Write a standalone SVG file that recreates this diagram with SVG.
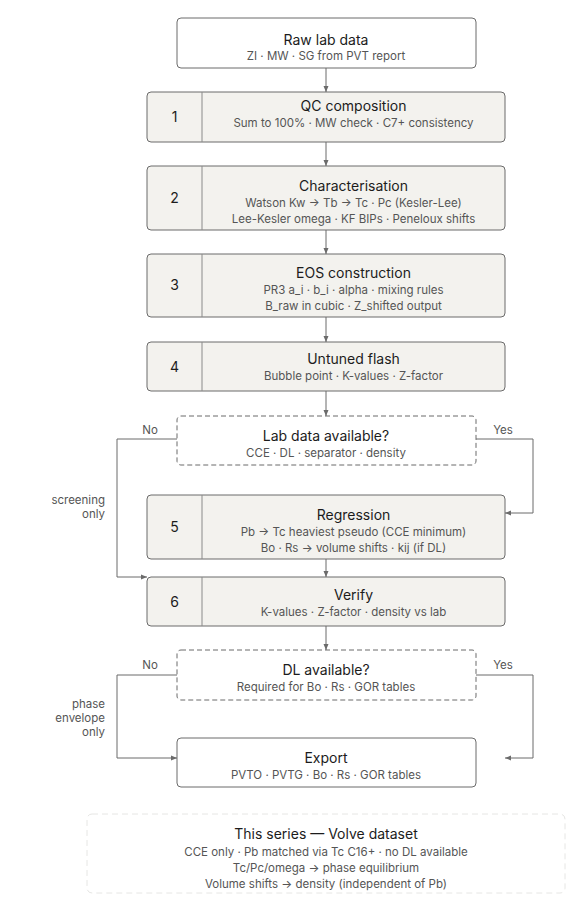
<svg xmlns="http://www.w3.org/2000/svg" width="575" height="912" viewBox="0 0 575 912">
<style>
.box{fill:#ffffff;stroke:#6b6b6b;stroke-width:1}
.step{fill:#f3f2ee;stroke:#6b6b6b;stroke-width:1}
.dec{fill:#ffffff;stroke:#6b6b6b;stroke-width:1;stroke-dasharray:5 3}
.note{fill:#ffffff;stroke:#e6e6e4;stroke-width:1;stroke-dasharray:6 4}
.div{stroke:#8a8a8a;stroke-width:1}
.t{font-family:Inter,"Liberation Sans",sans-serif;font-size:14px;fill:#1c1c1c;text-anchor:middle}
.s{font-family:Inter,"Liberation Sans",sans-serif;font-size:11.5px;fill:#555;text-anchor:middle}
.n{font-family:Inter,"Liberation Sans",sans-serif;font-size:14px;fill:#1c1c1c;text-anchor:middle}
.l{font-family:Inter,"Liberation Sans",sans-serif;font-size:11.5px;fill:#555}
.c{fill:none;stroke:#6b6b6b;stroke-width:1}
</style>
<defs>
<marker id="ah" markerWidth="6" markerHeight="6" refX="6" refY="3" orient="auto" markerUnits="userSpaceOnUse">
<path d="M0,0.5 L6,3 L0,5.5 z" fill="#6b6b6b"/>
</marker>
</defs>
<rect width="575" height="912" fill="#ffffff"/>
<g id="connectors">
<path class="c" d="M326,68 V92" marker-end="url(#ah)"/>
<path class="c" d="M326,142 V166" marker-end="url(#ah)"/>
<path class="c" d="M326,230 V254" marker-end="url(#ah)"/>
<path class="c" d="M326,317 V342" marker-end="url(#ah)"/>
<path class="c" d="M326,391 V416" marker-end="url(#ah)"/>
<path class="c" d="M177,439 H117 V577 H147" marker-end="url(#ah)"/>
<path class="c" d="M476,439 H533 V513 H505" marker-end="url(#ah)"/>
<path class="c" d="M326,559 V577" marker-end="url(#ah)"/>
<path class="c" d="M326,626 V650" marker-end="url(#ah)"/>
<path class="c" d="M177,675 H117 V758 H177" marker-end="url(#ah)"/>
<path class="c" d="M476,675 H533 V758 H505" marker-end="url(#ah)"/>
<text class="l" x="150" y="434" text-anchor="middle">No</text>
<text class="l" x="503" y="434" text-anchor="middle">Yes</text>
<text class="l" x="105" y="504" text-anchor="end">screening</text>
<text class="l" x="105" y="518" text-anchor="end">only</text>
<text class="l" x="150" y="669" text-anchor="middle">No</text>
<text class="l" x="503" y="669" text-anchor="middle">Yes</text>
<text class="l" x="105" y="708" text-anchor="end">phase</text>
<text class="l" x="105" y="722" text-anchor="end">envelope</text>
<text class="l" x="105" y="736" text-anchor="end">only</text>
</g>
<g id="raw">
<rect class="box" x="177" y="18" width="299" height="50" rx="4"/>
<text class="t" x="326" y="45">Raw lab data</text>
<text class="s" x="326" y="60">ZI · MW · SG from PVT report</text>
</g>
<g id="step1">
<rect class="step" x="147" y="92" width="358" height="50" rx="4"/>
<line class="div" x1="202" y1="92" x2="202" y2="142"/>
<text class="n" x="174.5" y="122">1</text>
<text class="t" x="353.5" y="111">QC composition</text>
<text class="s" x="353.5" y="127">Sum to 100% · MW check · C7+ consistency</text>
</g>
<g id="step2">
<rect class="step" x="147" y="166" width="358" height="64" rx="4"/>
<line class="div" x1="202" y1="166" x2="202" y2="230"/>
<text class="n" x="174.5" y="203">2</text>
<text class="t" x="353.5" y="191">Characterisation</text>
<text class="s" x="353.5" y="207">Watson Kw → Tb → Tc · Pc (Kesler-Lee)</text>
<text class="s" x="353.5" y="223">Lee-Kesler omega · KF BIPs · Peneloux shifts</text>
</g>
<g id="step3">
<rect class="step" x="147" y="254" width="358" height="63" rx="4"/>
<line class="div" x1="202" y1="254" x2="202" y2="317"/>
<text class="n" x="174.5" y="290">3</text>
<text class="t" x="353.5" y="278">EOS construction</text>
<text class="s" x="353.5" y="294">PR3 a_i · b_i · alpha · mixing rules</text>
<text class="s" x="353.5" y="310">B_raw in cubic · Z_shifted output</text>
</g>
<g id="step4">
<rect class="step" x="147" y="342" width="358" height="49" rx="4"/>
<line class="div" x1="202" y1="342" x2="202" y2="391"/>
<text class="n" x="174.5" y="372">4</text>
<text class="t" x="353.5" y="364">Untuned flash</text>
<text class="s" x="353.5" y="380">Bubble point · K-values · Z-factor</text>
</g>
<g id="decision1">
<rect class="dec" x="177" y="416" width="299" height="49" rx="4"/>
<text class="t" x="326" y="441">Lab data available?</text>
<text class="s" x="326" y="457">CCE · DL · separator · density</text>
</g>
<g id="step5">
<rect class="step" x="147" y="495" width="358" height="64" rx="4"/>
<line class="div" x1="202" y1="495" x2="202" y2="559"/>
<text class="n" x="174.5" y="532">5</text>
<text class="t" x="353.5" y="520">Regression</text>
<text class="s" x="353.5" y="536">Pb → Tc heaviest pseudo (CCE minimum)</text>
<text class="s" x="353.5" y="552">Bo · Rs → volume shifts · kij (if DL)</text>
</g>
<g id="step6">
<rect class="step" x="147" y="577" width="358" height="49" rx="4"/>
<line class="div" x1="202" y1="577" x2="202" y2="626"/>
<text class="n" x="174.5" y="607">6</text>
<text class="t" x="353.5" y="600">Verify</text>
<text class="s" x="353.5" y="616">K-values · Z-factor · density vs lab</text>
</g>
<g id="decision2">
<rect class="dec" x="177" y="650" width="299" height="50" rx="4"/>
<text class="t" x="326" y="675">DL available?</text>
<text class="s" x="326" y="691">Required for Bo · Rs · GOR tables</text>
</g>
<g id="export">
<rect class="box" x="177" y="738" width="299" height="49" rx="4"/>
<text class="t" x="326" y="763">Export</text>
<text class="s" x="326" y="779">PVTO · PVTG · Bo · Rs · GOR tables</text>
</g>
<g id="note">
<rect class="note" x="87" y="814" width="478" height="79" rx="5"/>
<text class="t" x="326" y="839">This series — Volve dataset</text>
<text class="s" x="326" y="856">CCE only · Pb matched via Tc C16+ · no DL available</text>
<text class="s" x="326" y="872">Tc/Pc/omega → phase equilibrium</text>
<text class="s" x="326" y="888">Volume shifts → density (independent of Pb)</text>
</g>
</svg>
